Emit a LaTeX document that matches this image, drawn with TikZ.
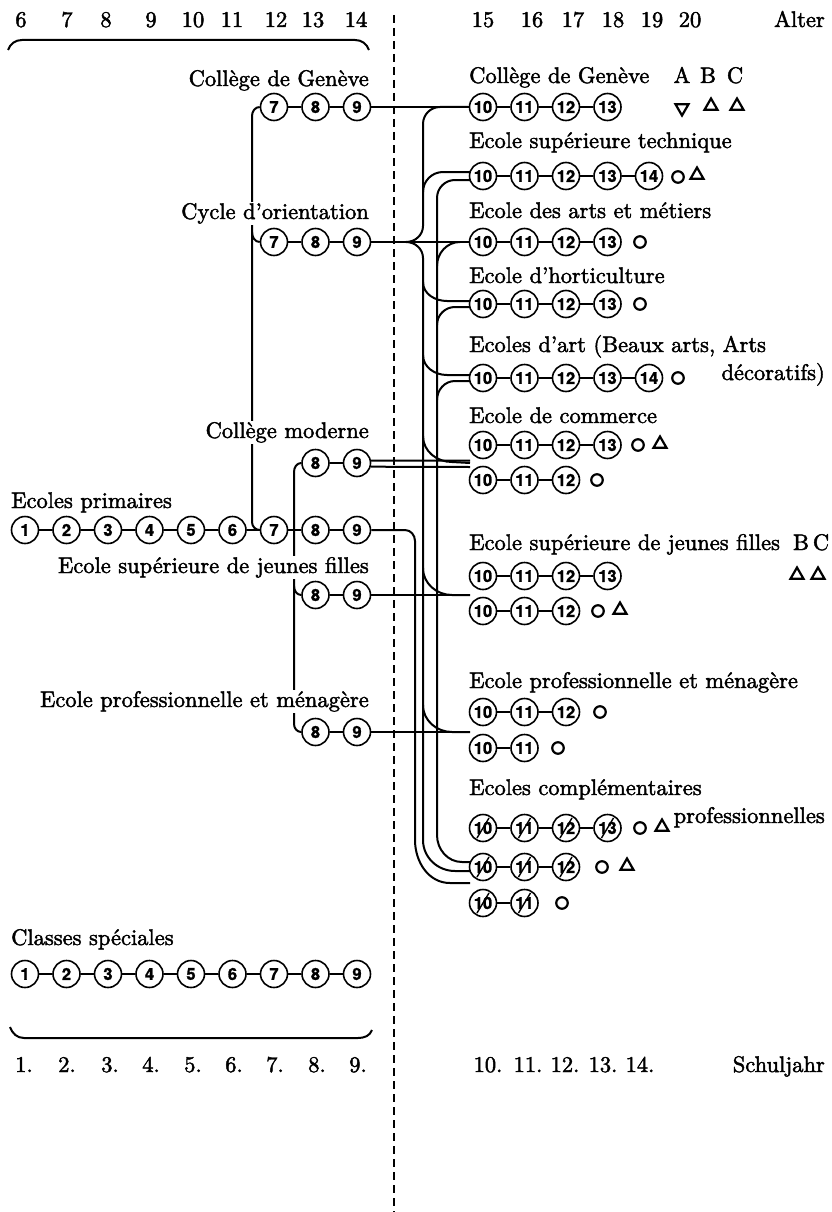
\documentclass[tikz,border=0pt]{standalone}
\usepackage{fontspec}
\usetikzlibrary{arrows,shapes.geometric}
\newfontfamily\ziffer{TeX Gyre Heros}[BoldFeatures={FakeBold=1.5}]
\newfontfamily\schrift{lmroman10-regular.otf}[FakeBold=2]

% one row of classes: style, name, x, y, first, last
\newcommand{\reihe}[6][klasse]{%
  \foreach \k in {#5,...,#6} {%
    \node[#1] (#2\k) at ({#3+41.5*(\k-#5)},#4) {\k};
    \ifnum\k>#5 \pgfmathtruncatemacro{\vor}{\k-1}\draw[kette] (#2\vor) -- (#2\k);\fi
  }}

\begin{document}
\begin{tikzpicture}[x=1pt,y=1pt,
  klasse/.style={circle,draw,line width=1.6pt,minimum size=27pt,inner sep=0pt,font={\ziffer\bfseries\fontsize{16.5}{16.5}\selectfont}},
  klassex/.style={klasse,path picture={\draw[line width=1.4pt] ([shift={(-6pt,-10pt)}]path picture bounding box.center) -- ([shift={(6pt,10pt)}]path picture bounding box.center);}},
  kette/.style={line width=1.6pt},
  weg/.style={line width=2pt},
  schule/.style={font={\schrift\fontsize{22.5}{26}\selectfont},inner sep=1pt},
  hinten/.style={schule,fill=white},
  ring/.style={circle,draw,line width=2.2pt,minimum size=11.5pt,inner sep=0pt},
  tri/.style={regular polygon,regular polygon sides=3,draw,line width=2.2pt,minimum size=15pt,inner sep=0pt},
  tridown/.style={tri,shape border rotate=180}]
\useasboundingbox (0,0) rectangle (831,-1212);

% ages and years
\foreach \a/\x in {6/21,7/67,8/106,9/151,10/193,11/232,12/276,13/313,14/356,15/483,16/532,17/573,18/613,19/652,20/690}
  \node[schule,anchor=base] (alt\a) at (\x,-27) {\a};
\node[schule,anchor=base east] (alter) at (826,-27) {Alter};
\foreach \a/\x in {1/24,2/67,3/110,4/151,5/193,6/234,7/275,8/317,9/358,10/488,11/528,12/565,13/603,14/640}
  \node[schule,anchor=base] (sj\a) at (\x,-1072) {\a.};
\node[schule,anchor=base east] (schuljahr) at (826,-1072) {Schuljahr};

% braces and dashed border
\draw[line width=2pt] (8,-50) to[out=70,in=180] (22,-40) -- (355,-40) to[out=0,in=110] (369,-50);
\draw[line width=2pt] (10,-1027) to[out=-70,in=180] (24,-1038) -- (358,-1038) to[out=0,in=-110] (372,-1030);
\draw[line width=2.5pt,dash pattern=on 8pt off 5pt] (394,-15) -- (394,-1212);

% rows
\reihe{lcg}{274}{-107}{7}{9}
\reihe{cy}{274}{-242}{7}{9}
\reihe{cm}{315.5}{-463}{8}{9}
\reihe{pr}{25}{-530}{1}{9}
\reihe{sl}{315.5}{-595}{8}{9}
\reihe{pl}{315.5}{-732}{8}{9}
\reihe{cs}{25}{-974}{1}{9}
\reihe{rcg}{483}{-107}{10}{13}
\reihe{tec}{483}{-176}{10}{14}
\reihe{am}{483}{-242}{10}{13}
\reihe{hor}{483}{-304}{10}{13}
\reihe{art}{483}{-378}{10}{14}
\reihe{ko}{483}{-445}{10}{13}
\reihe{kob}{483}{-480}{10}{12}
\reihe{sr}{483}{-576}{10}{13}
\reihe{srb}{483}{-611}{10}{12}
\reihe{pr}{483}{-712}{10}{12}
\reihe{prb}{483}{-748}{10}{11}
\reihe[klassex]{ek}{483}{-828}{10}{13}
\reihe[klassex]{ekb}{483}{-867}{10}{12}
\reihe[klassex]{ekc}{483}{-903}{10}{11}

% left side
\draw[weg] (lcg7.west) to[out=180,in=90] (252,-116) -- (252,-522) to[out=-90,in=180] (pr7.west);
\draw[weg] (252,-232) to[out=-90,in=180] (cy7.west);
\draw[weg] (cm8.west) to[out=180,in=90] (294,-472) -- (294,-724) to[out=-90,in=180] (pl8.west);
\draw[weg] (294,-586) to[out=-90,in=180] (sl8.west);

% crossing the border
\coordinate (kom) at (470,-463);
\coordinate (slz) at (470,-595);
\coordinate (plz) at (470,-732);
\draw[weg] (lcg9) -- (rcg10);
\draw[weg] (cy9) -- (am10);
\draw[weg] (cm9.10) -- (470,-460.5);
\draw[weg] (cm9.-15) -- (470,-467);
\draw[weg] (sl9) -- (slz);
\draw[weg] (pl9) -- (plz);
\draw[weg] (pr9) -- (405,-530) to[out=0,in=90] (415,-541) -- (415,-840) to[out=-90,in=180] (450,-883) -- (470,-883);
\draw[weg] (rcg10.west) -- (440,-107) to[out=180,in=90] (423,-124) -- (423,-226) to[out=-90,in=0] (406,-242)
  to[out=0,in=90] (423,-258) -- (423,-840) to[out=-90,in=180] (455,-871) -- (470,-871);
\draw[weg] (470,-180) -- (455,-180) to[out=180,in=90] (437,-198) -- (437,-835) to[out=-90,in=180] (462,-862) -- (470,-862);
\draw[weg] (423,-192) to[out=90,in=180] (443,-172) -- (470,-172);
\draw[weg] (437,-266) to[out=90,in=180] (460,-242);
\draw[weg] (423,-282) to[out=-90,in=180] (447,-301) -- (470,-301);
\draw[weg] (437,-325) to[out=90,in=180] (455,-307) -- (470,-307);
\draw[weg] (423,-355) to[out=-90,in=180] (447,-375) -- (470,-375);
\draw[weg] (437,-400) to[out=90,in=180] (455,-381) -- (470,-381);
\draw[weg] (423,-436) to[out=-90,in=180] (452,-462) -- (kom);
\draw[weg] (423,-568) to[out=-90,in=180] (452,-595) -- (slz);
\draw[weg] (423,-705) to[out=-90,in=180] (452,-732) -- (plz);

% marks
\foreach \p [count=\i] in {(678,-177),(640,-242),(640,-304),(678,-378),(638,-445),(597,-480),(598,-611),(600,-712),(558,-748),(640,-828),(602,-867),(562,-903)}
  \node[ring] (ring\i) at \p {};
\foreach \p [count=\i] in {(711,-106),(737,-106),(697,-175),(660,-444),(797,-575),(818,-575),(620,-610),(662,-827),(627,-866)}
  \node[tri] (tri\i) at \p {};
\node[tridown] (tri0) at (682,-108) {};

% labels
\node[hinten,anchor=base east] (lcgt) at (370,-86) {Collège de Genève};
\node[hinten,anchor=base east] (cyt) at (370,-219) {Cycle d’orientation};
\node[hinten,anchor=base east] (cmt) at (370,-438) {Collège moderne};
\node[hinten,anchor=base west] (prt) at (10,-508) {Ecoles primaires};
\node[hinten,anchor=base east] (slt) at (370,-573) {Ecole supérieure de jeunes filles};
\node[hinten,anchor=base east] (plt) at (370,-707) {Ecole professionnelle et ménagère};
\node[hinten,anchor=base west] (cst) at (10,-945) {Classes spéciales};
\node[schule,anchor=base west] (rcgt) at (468,-83) {Collège de Genève};
\node[schule,anchor=base] (tA) at (682,-83) {A};
\node[schule,anchor=base] (tB) at (708,-83) {B};
\node[schule,anchor=base] (tC) at (735,-83) {C};
\node[schule,anchor=base west] (tect) at (468,-148) {Ecole supérieure technique};
\node[schule,anchor=base west] (amt) at (468,-218) {Ecole des arts et métiers};
\node[schule,anchor=base west] (hort) at (468,-283) {Ecole d’horticulture};
\node[schule,anchor=base west] (artt) at (468,-352) {Ecoles d’art (Beaux arts, Arts};
\node[schule,anchor=base east] (dekt) at (826,-380) {décoratifs)};
\node[schule,anchor=base west] (kot) at (468,-423) {Ecole de commerce};
\node[schule,anchor=base west] (srt) at (468,-550) {Ecole supérieure de jeunes filles};
\node[schule,anchor=base] (sB) at (801,-550) {B};
\node[schule,anchor=base] (sC) at (821,-550) {C};
\node[schule,anchor=base west] (prrt) at (468,-688) {Ecole professionnelle et ménagère};
\node[schule,anchor=base west] (ekt) at (468,-795) {Ecoles complémentaires};
\node[schule,anchor=base east] (ekpt) at (826,-823) {professionnelles};
\end{tikzpicture}
\end{document}
